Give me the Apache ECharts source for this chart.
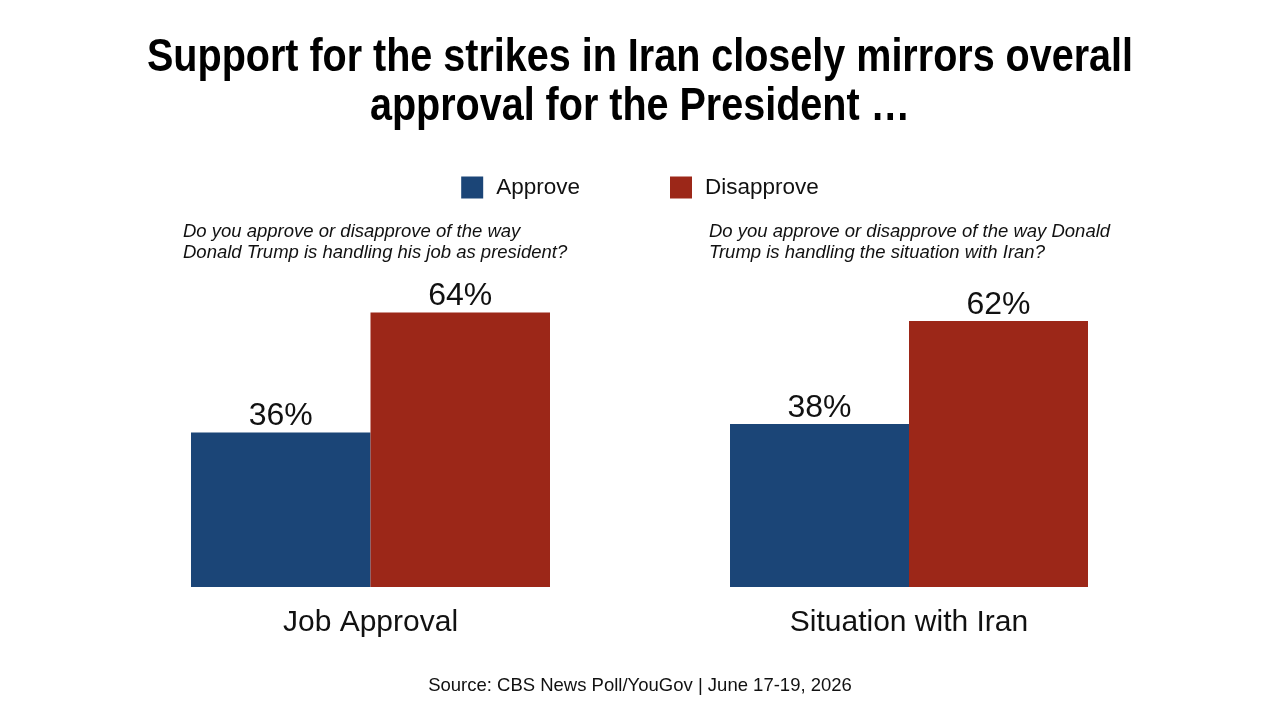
<!DOCTYPE html>
<html><head><meta charset="utf-8">
<script src="https://cdn.jsdelivr.net/npm/echarts@6/dist/echarts.min.js"></script>
<style>html,body{margin:0;padding:0;background:#fff}#c{width:1280px;height:720px}</style>
</head><body><div id="c"></div>
<script>
const seriesNames = ['Approve', 'Disapprove'];
const categoriesLeft = ['Job Approval'];
const categoriesRight = ['Situation with Iran'];
const approveValues = [36, 38];
const disapproveValues = [64, 62];
const titleLines = ['Support for the strikes in Iran closely mirrors overall', 'approval for the President …'];
const questions = [
  'Do you approve or disapprove of the way\nDonald Trump is handling his job as president?',
  'Do you approve or disapprove of the way Donald\nTrump is handling the situation with Iran?'
];
const sourceText = 'Source: CBS News Poll/YouGov | June 17-19, 2026';
const colors = ['#1B4577', '#9C2718'];

const FONT = 'Liberation Sans, Arial, Helvetica, sans-serif';
const titleFont = 'bold 46px ' + FONT;
// horizontal compression for condensed title look
const cv = document.createElement('canvas').getContext('2d');
cv.font = titleFont;
const w1 = cv.measureText(titleLines[0]).width;
const titleScale = Math.min(1, 986 / w1);

const chart = echarts.init(document.getElementById('c'));
const labelCfg = {show: true, position: 'top', formatter: '{c}%', fontSize: 32, color: '#111', fontFamily: FONT, distance: 0};
const grids = [
  {left: 191, width: 359, top: 158, bottom: 133},
  {left: 730, width: 358, top: 158, bottom: 133}
];
const cats = [categoriesLeft, categoriesRight];
chart.setOption({
  animation: false,
  legend: {
    data: seriesNames, top: 171, left: 'center', itemWidth: 22, itemHeight: 22, itemGap: 90,
    icon: 'rect',
    textStyle: {fontSize: 22.5, fontFamily: FONT, color: '#111', padding: [0,0,0,8]}
  },
  graphic: [
    {type: 'text', x: 640, y: 34, scaleX: titleScale, style: {text: titleLines.join('\n'), font: titleFont, fill: '#000', textAlign: 'center', lineHeight: 49}},
    {type: 'text', left: 183, top: 221, style: {text: questions[0], font: 'italic 18.5px ' + FONT, fill: '#111', lineHeight: 21}},
    {type: 'text', left: 709, top: 221, style: {text: questions[1], font: 'italic 18.5px ' + FONT, fill: '#111', lineHeight: 21}},
    {type: 'text', left: 'center', top: 676, style: {text: sourceText, font: '18.5px ' + FONT, fill: '#111'}}
  ],
  grid: grids,
  xAxis: [0,1].map(i => ({
    type: 'category', gridIndex: i, data: cats[i],
    axisLine: {show: false}, axisTick: {show: false},
    axisLabel: {fontSize: 30, color: '#111', margin: 21, fontFamily: FONT}
  })),
  yAxis: [0,1].map(i => ({type: 'value', gridIndex: i, min: 0, max: 100, show: false, splitLine: {show: false}})),
  series: [
    {name: 'Approve', type: 'bar', xAxisIndex: 0, yAxisIndex: 0, data: [approveValues[0]], itemStyle: {color: colors[0]}, barGap: '0%', barCategoryGap: '0%', label: labelCfg},
    {name: 'Disapprove', type: 'bar', xAxisIndex: 0, yAxisIndex: 0, data: [disapproveValues[0]], itemStyle: {color: colors[1]}, barGap: '0%', barCategoryGap: '0%', label: labelCfg},
    {name: 'Approve', type: 'bar', xAxisIndex: 1, yAxisIndex: 1, data: [approveValues[1]], itemStyle: {color: colors[0]}, barGap: '0%', barCategoryGap: '0%', label: labelCfg},
    {name: 'Disapprove', type: 'bar', xAxisIndex: 1, yAxisIndex: 1, data: [disapproveValues[1]], itemStyle: {color: colors[1]}, barGap: '0%', barCategoryGap: '0%', label: labelCfg}
  ]
});
</script></body></html>
